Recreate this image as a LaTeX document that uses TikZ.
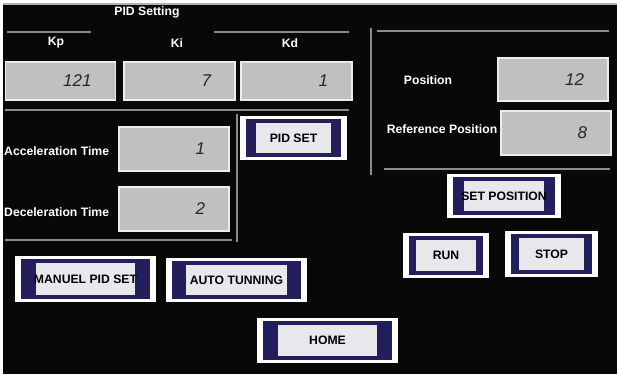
\documentclass[tikz,border=0pt]{standalone}
\usepackage{fontspec}
\setmainfont{Liberation Sans}
\usepackage{tikz}
\usetikzlibrary{positioning,calc}
\usepackage{xcolor}
\definecolor{hminavy}{HTML}{231F5C}
\definecolor{hmiface}{HTML}{E8E8EC}
\definecolor{hmilcd}{HTML}{C0C0C0}
\definecolor{hmiline}{HTML}{8C8C8C}
\definecolor{hmiscreen}{HTML}{080808}

\begin{document}
\begin{tikzpicture}[
    x=1pt, y=-1pt,
    lbl/.style={text=white, font=\bfseries\fontsize{12.2}{14}\selectfont, inner sep=0pt},
    lcd/.style={fill=hmilcd, draw=white!85!gray, line width=1.2pt, text width=#1, align=right, inner xsep=24pt, inner ysep=0pt, font=\itshape\fontsize{17}{18}\selectfont, text=black!85},
    sep/.style={hmiline, line width=1.2pt},
    btn/.style={fill=white, inner sep=0pt, text=black, font=\bfseries\fontsize{12.2}{14}\selectfont,
        path picture={
            \fill[hminavy] ($(path picture bounding box.south west)+(6pt,3pt)$) rectangle ($(path picture bounding box.north east)+(-6pt,-3pt)$);
            \fill[hmiface] ($(path picture bounding box.south west)+(#1pt,7pt)$) rectangle ($(path picture bounding box.north east)+(-#1pt,-7pt)$);
        }},
    btn/.default=16,
]

% screen
\useasboundingbox (0,0) rectangle (617,374);
\fill[white] (0,0) rectangle (617,374);
\fill[hmiscreen] (3,4) rectangle (617,374);
\draw[gray!60, line width=1.5pt] (3,4) -- (617,4);

% PID gains
\node[lbl] (title) at (147,12) {PID Setting};
\draw[sep] (7,32) -- (91,32);
\draw[sep] (214,32) -- (349,32);
\node[lbl] (kplbl) at (56,43) {Kp};
\node[lbl] (kilbl) at (177,43) {Ki};
\node[lbl] (kdlbl) at (290,43) {Kd};
\node[lcd=62pt, minimum height=38] (kp) at (60.5,81) {121};
\node[lcd=63pt, minimum height=38] (ki) at (179.5,81) {7};
\node[lcd=63pt, minimum height=38] (kd) at (296.5,81) {1};
\draw[sep] (5,110) -- (349,110);

% ramp times
\draw[sep] (237,114) -- (237,242);
\draw[sep] (5,240) -- (232,240);
\node[lbl, anchor=west] (acclbl) at (4,151) {Acceleration Time};
\node[lcd=62pt, minimum height=44] (acc) at (174,149) {1};
\node[lbl, anchor=west] (declbl) at (4,212) {Deceleration Time};
\node[lcd=62pt, minimum height=44] (dec) at (174,209) {2};
\node[btn=16, minimum width=107, minimum height=44] (pidset) at (293.5,138) {PID SET};
\node[btn=21, minimum width=141, minimum height=46] (manuel) at (85.5,279) {MANUEL PID SET};
\node[btn=20, minimum width=141, minimum height=44] (autotune) at (236.5,280) {AUTO TUNNING};

% position
\draw[sep] (371,28) -- (371,175);
\draw[sep] (377,31) -- (609,31);
\node[lbl] (poslbl) at (428,80) {Position};
\node[lcd=62pt, minimum height=43] (pos) at (553,79.5) {12};
\node[lbl] (reflbl) at (442,129) {Reference Position};
\node[lcd=62pt, minimum height=44] (refpos) at (556,133) {8};
\draw[sep] (384,169) -- (610,169);
\node[btn=17, minimum width=114, minimum height=44] (setpos) at (504,196) {SET POSITION};
\node[btn=13, minimum width=86, minimum height=45] (run) at (446,255.5) {RUN};
\node[btn=14, minimum width=93, minimum height=46] (stop) at (551.5,254) {STOP};

% navigation
\node[btn=21, minimum width=141, minimum height=45] (home) at (327.5,340.5) {HOME};

\end{tikzpicture}
\end{document}
